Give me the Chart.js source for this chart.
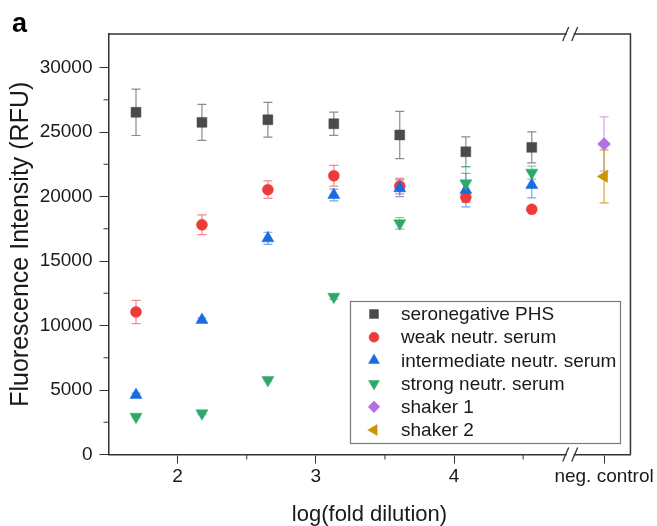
<!DOCTYPE html>
<html><head><meta charset="utf-8">
<script src="https://cdn.jsdelivr.net/npm/chart.js@4.4.1/dist/chart.umd.min.js"></script>
<style>html,body{margin:0;padding:0;background:#fff;}#wrap{width:657px;height:526px;position:relative;}</style>
</head><body><div id="wrap"><canvas id="c" width="657" height="526"></canvas></div>
<script>
// ---- data ----
const logDilution = [1.699, 2.176, 2.653, 3.130, 3.607, 4.085, 4.562];
const negControlX = 5.085;
const axisBreakX = 4.84;
const xTickValues = [2, 2.5, 3, 3.5, 4, 4.5, 5.085];
const xTickLabels = ['2', '', '3', '', '4', '', 'neg. control'];
const yTickValues = [0, 2500, 5000, 7500, 10000, 12500, 15000, 17500, 20000, 22500, 25000, 27500, 30000];

const seronegPHS     = [26530, 25750, 25950, 25640, 24770, 23470, 23810];
const seronegPHSErr  = [1800, 1400, 1350, 900, 1830, 1160, 1200];
const weakSerum      = [11050, 17810, 20530, 21610, 20810, 19940, 19010];
const weakSerumErr   = [900, 770, 680, 800, 600, 400, 0];
const interSerum     = [4610, 10430, 16760, 20120, 20640, 20500, 20890];
const interSerumErr  = [150, 150, 470, 450, 650, 1300, 1000];
const strongSerum    = [2930, 3190, 5780, 12230, 17920, 21020, 21850];
const strongSerumErr = [100, 100, 100, 200, 450, 1300, 500];
const shaker1        = [24070];
const shaker1Err     = [2100];
const shaker2        = [21560];
const shaker2Err     = [2050];

const seriesNames = ['seronegative PHS', 'weak neutr. serum', 'intermediate neutr. serum',
                     'strong neutr. serum', 'shaker 1', 'shaker 2'];

const FONT = "'Liberation Sans', Arial, sans-serif";

function pts(xs, ys) { return ys.map((y, i) => ({x: xs[i], y: y})); }

const styles = [
  {color: '#4a4a4a', err: 'rgba(120,120,120,0.85)', style: 'rect', r: 7, rot: 0},
  {color: '#ef3a3a', err: 'rgba(239,58,58,0.6)', style: 'circle', r: 5.5, rot: 0},
  {color: '#1a6be0', err: 'rgba(26,107,224,0.6)', style: 'triangle', r: 7, rot: 0},
  {color: '#2ea866', err: 'rgba(46,168,102,0.6)', style: 'triangle', r: 7, rot: 180},
  {color: '#b270e0', err: 'rgba(178,112,224,0.6)', style: 'rectRot', r: 6.5, rot: 0},
  {color: '#cc9400', err: 'rgba(204,148,0,0.8)', style: 'triangle', r: 7, rot: 270}
];

const seriesData = [
  pts(logDilution, seronegPHS),
  pts(logDilution, weakSerum),
  pts(logDilution, interSerum),
  pts(logDilution, strongSerum),
  pts([negControlX], shaker1),
  pts([negControlX], shaker2)
];
const seriesErr = [seronegPHSErr, weakSerumErr, interSerumErr, strongSerumErr, shaker1Err, shaker2Err];

const datasets = seriesData.map((d, i) => ({
  label: seriesNames[i],
  data: d,
  errors: seriesErr[i],
  errColor: styles[i].err,
  pointStyle: styles[i].style,
  pointRadius: styles[i].r,
  pointRotation: styles[i].rot,
  backgroundColor: styles[i].color,
  borderColor: styles[i].color,
  pointBorderWidth: 0.5,
  order: 10 - i
}));

const decor = {
  id: 'decor',
  beforeDatasetsDraw(chart) {
    const ctx = chart.ctx, ys = chart.scales.y;
    ctx.save();
    chart.data.datasets.forEach((ds, di) => {
      const meta = chart.getDatasetMeta(di);
      ctx.strokeStyle = ds.errColor;
      ctx.lineWidth = 1.2;
      meta.data.forEach((el, i) => {
        const e = ds.errors[i];
        if (!e) return;
        const v = ds.data[i].y;
        const yt = ys.getPixelForValue(v + e), yb = ys.getPixelForValue(v - e);
        const x = el.x;
        ctx.beginPath();
        ctx.moveTo(x, yt); ctx.lineTo(x, yb);
        ctx.moveTo(x - 4.5, yt); ctx.lineTo(x + 4.5, yt);
        ctx.moveTo(x - 4.5, yb); ctx.lineTo(x + 4.5, yb);
        ctx.stroke();
      });
    });
    ctx.restore();
  },
  afterDraw(chart) {
    const ctx = chart.ctx, a = chart.chartArea, xs = chart.scales.x, ys = chart.scales.y;
    ctx.save();
    ctx.strokeStyle = '#333';
    ctx.lineWidth = 1.5;
    // top and right frame
    ctx.beginPath();
    ctx.moveTo(a.left, a.top); ctx.lineTo(a.right, a.top); ctx.lineTo(a.right, a.bottom);
    ctx.stroke();
    // minor ticks
    ctx.lineWidth = 1;
    ctx.beginPath();
    yTickValues.forEach(v => {
      if (v % 5000 !== 0) { const y = ys.getPixelForValue(v); ctx.moveTo(a.left - 5, y); ctx.lineTo(a.left, y); }
    });
    xTickValues.forEach((v, i) => {
      if (xTickLabels[i] === '') { const x = xs.getPixelForValue(v); ctx.moveTo(x, a.bottom); ctx.lineTo(x, a.bottom + 5); }
    });
    ctx.stroke();
    // axis breaks
    const xb = xs.getPixelForValue(axisBreakX);
    [a.top, a.bottom].forEach(y => {
      ctx.fillStyle = '#fff';
      ctx.fillRect(xb - 3.5, y - 2, 7, 4);
      ctx.strokeStyle = '#333';
      ctx.lineWidth = 1.3;
      ctx.beginPath();
      ctx.moveTo(xb - 7.5, y + 7); ctx.lineTo(xb - 1.5, y - 7);
      ctx.moveTo(xb + 1.5, y + 7); ctx.lineTo(xb + 7.5, y - 7);
      ctx.stroke();
    });
    // legend
    const lx = 350.5, ly = 301.5, lw = 270, lh = 142;
    ctx.fillStyle = '#fff';
    ctx.fillRect(lx, ly, lw, lh);
    ctx.strokeStyle = '#7a7a7a';
    ctx.lineWidth = 1.2;
    ctx.strokeRect(lx, ly, lw, lh);
    ctx.font = '19px ' + FONT;
    ctx.textBaseline = 'middle';
    ctx.textAlign = 'left';
    chart.data.datasets.forEach((ds, i) => {
      const y = 314 + i * 23.2;
      ctx.fillStyle = ds.backgroundColor;
      ctx.strokeStyle = ds.borderColor;
      ctx.lineWidth = 0.5;
      Chart.helpers.drawPoint(ctx, {pointStyle: ds.pointStyle, radius: ds.pointRadius * 0.9, rotation: ds.pointRotation, borderWidth: 0.5}, 374, y);
      ctx.fillStyle = '#1a1a1a';
      ctx.fillText(ds.label, 401, y + 1);
    });
    // panel label
    ctx.fillStyle = '#000';
    ctx.font = 'bold 27px ' + FONT;
    ctx.textBaseline = 'alphabetic';
    ctx.fillText('a', 12, 32);
    ctx.restore();
  }
};

new Chart(document.getElementById('c'), {
  type: 'scatter',
  data: {datasets: datasets},
  options: {
    responsive: false,
    devicePixelRatio: 1,
    animation: false,
    layout: {padding: {top: 34, right: 25.5, left: 0, bottom: 0}},
    plugins: {legend: {display: false}, tooltip: {enabled: false}},
    scales: {
      x: {
        type: 'linear', min: 1.5, max: 5.276,
        afterBuildTicks: s => { s.ticks = xTickValues.map(v => ({value: v})); },
        afterFit: s => { s.height = 71.5; },
        ticks: {
          autoSkip: false, maxRotation: 0, minRotation: 0, padding: 2,
          color: '#1a1a1a', font: {family: FONT, size: 19},
          callback: (v, i) => xTickLabels[i]
        },
        grid: {
          drawOnChartArea: false, drawTicks: true, tickLength: 9,
          tickColor: c => (c.tick && xTickLabels[xTickValues.indexOf(c.tick.value)] !== '') ? '#333' : 'rgba(0,0,0,0)'
        },
        border: {display: true, color: '#333', width: 1.5},
        title: {display: true, text: 'log(fold dilution)', color: '#1a1a1a',
                font: {family: FONT, size: 22, lineHeight: 1}, padding: {top: 0, bottom: 0}}
      },
      y: {
        type: 'linear', min: 0, max: 32600,
        afterBuildTicks: s => { s.ticks = yTickValues.map(v => ({value: v})); },
        afterFit: s => { s.width = 108.5; },
        ticks: {
          padding: 7, color: '#1a1a1a', font: {family: FONT, size: 19},
          callback: v => (v % 5000 === 0 ? String(v) : '')
        },
        grid: {
          drawOnChartArea: false, drawTicks: true, tickLength: 9,
          tickColor: c => (c.tick && c.tick.value % 5000 === 0) ? '#333' : 'rgba(0,0,0,0)'
        },
        border: {display: true, color: '#333', width: 1.5},
        title: {display: true, text: 'Fluorescence Intensity (RFU)', color: '#1a1a1a',
                font: {family: FONT, size: 25, lineHeight: 1}, padding: {top: 9, bottom: 0}}
      }
    }
  },
  plugins: [decor]
});
</script></body></html>
